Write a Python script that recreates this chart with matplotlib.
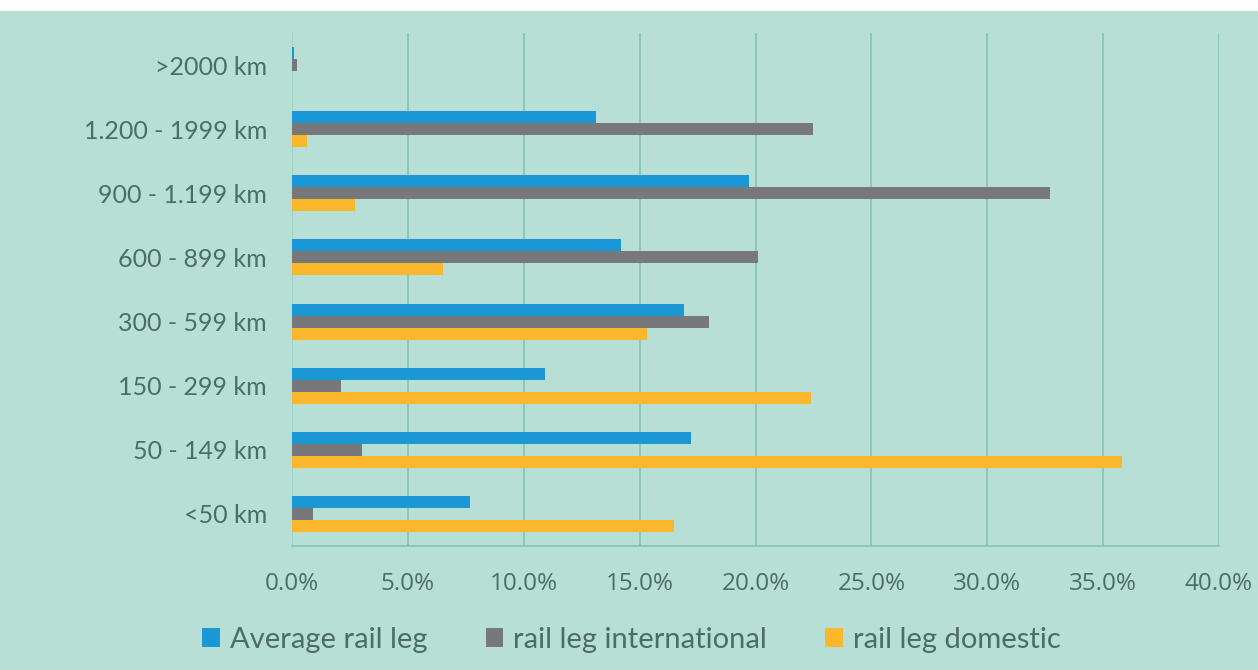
import matplotlib.pyplot as plt
from matplotlib.patches import Rectangle, Patch

# distance classes, top to bottom as in the chart
categories = ['>2000 km', '1.200 - 1999 km', '900 - 1.199 km', '600 - 899 km',
              '300 - 599 km', '150 - 299 km', '50 - 149 km', '<50 km']
# shares in %
average = [0.08, 13.1, 19.7, 14.2, 16.9, 10.9, 17.2, 7.7]
international = [0.2, 22.5, 32.7, 20.1, 18.0, 2.1, 3.0, 0.9]
domestic = [0.0, 0.65, 2.7, 6.5, 15.3, 22.4, 35.8, 16.5]
series_names = ['Average rail leg', 'rail leg international', 'rail leg domestic']
xticks = list(range(0, 41, 5))

bg = '#b8dfd5'
grid_c = '#86c1b3'
text_c = '#4e6c67'
colors = ['#1a97d4', '#76787c', '#fbb72b']

plt.rcParams['font.family'] = ['Lato', 'DejaVu Sans']

fig = plt.figure(figsize=(12.58, 6.70), dpi=100, facecolor='white')
# teal panel below the thin white strip at the top
fig.patches.append(Rectangle((0, 0), 1, 659 / 670, transform=fig.transFigure,
                             facecolor=bg, edgecolor='none', zorder=-10))

ax = fig.add_axes([292 / 1258, 1 - 546 / 670, (1219 - 292) / 1258, (546 - 33) / 670])
ax.set_facecolor(bg)

h = 0.1875
ypos = list(range(len(categories)))
for k, vals in enumerate([average, international, domestic]):
    off = (k - 1) * h
    ax.barh([y + off for y in ypos], vals, height=h, color=colors[k], zorder=3)

ax.set_xlim(0, 40)
ax.set_ylim(7.5, -0.5)
ax.set_xticks(xticks)
ax.set_xticklabels(['%.1f%%' % v for v in xticks], fontfamily='Open Sans', fontsize=17.5)
ax.set_yticks(ypos)
ax.set_yticklabels(categories, fontsize=18)

ax.grid(axis='x', color=grid_c, linewidth=1.2, zorder=1)
for s in ['top', 'right']:
    ax.spines[s].set_visible(False)
ax.spines['left'].set_color('#a3d2c6')
ax.spines['bottom'].set_color(grid_c)
ax.spines['bottom'].set_linewidth(1.2)
ax.tick_params(axis='x', length=0, pad=19, labelcolor=text_c)
ax.tick_params(axis='y', length=0, pad=18, labelcolor=text_c)

handles = [Patch(facecolor=c, edgecolor='none') for c in colors]
leg = fig.legend(handles, series_names, loc='center', bbox_to_anchor=(0.502, 1 - 640 / 670),
                 ncol=3, frameon=False, fontsize=21, handlelength=0.6, handleheight=0.6,
                 handletextpad=0.35, columnspacing=2.0)
for t in leg.get_texts():
    t.set_color(text_c)

fig.savefig('out.png', dpi=100, facecolor='white')
